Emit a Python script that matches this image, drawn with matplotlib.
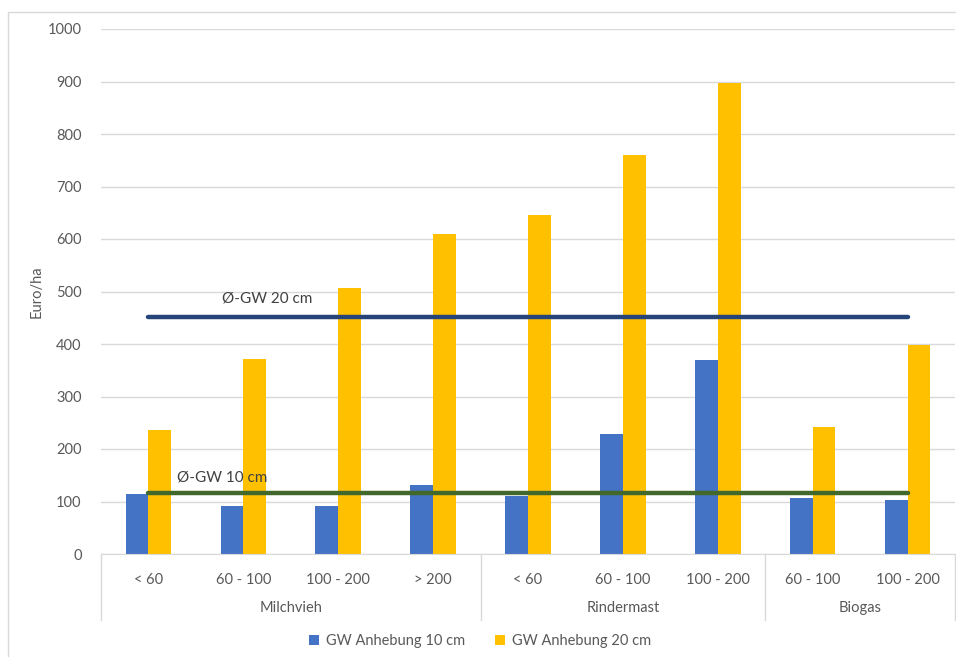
import numpy as np
import matplotlib.pyplot as plt
from matplotlib.patches import Rectangle

plt.rcParams['font.family'] = ['Lato', 'DejaVu Sans']

# data
categories = ['< 60', '60 - 100', '100 - 200', '> 200',
              '< 60', '60 - 100', '100 - 200',
              '60 - 100', '100 - 200']
groups = ['Milchvieh', 'Rindermast', 'Biogas']
group_sizes = [4, 3, 2]
gw10 = [114, 92, 92, 132, 110, 228, 370, 106, 102]
gw20 = [236, 372, 507, 609, 645, 760, 897, 242, 399]
avg10 = 116
avg20 = 451
series_names = ['GW Anhebung 10 cm', 'GW Anhebung 20 cm']

W, H = 956, 657
fig = plt.figure(figsize=(W / 100, H / 100), dpi=100)
ax = fig.add_axes([101 / W, 1 - 554 / H, 854 / W, 525 / H])

# outer chart border (cropped at right / bottom)
fig.patches.append(Rectangle((8 / W, -0.05), 1.1, 1 - 12 / H + 0.05, transform=fig.transFigure,
                             fill=False, edgecolor='#d9d9d9', linewidth=1.0))

x = np.arange(len(categories))
bw = 0.24
ax.bar(x - bw / 2, gw10, bw, color='#4472C4', label=series_names[0], zorder=2)
ax.bar(x + bw / 2, gw20, bw, color='#FFC000', label=series_names[1], zorder=2)

# average lines
ax.plot([x[0], x[-1]], [avg20, avg20], color='#264478', linewidth=3.2, solid_capstyle='round', zorder=3)
ax.plot([x[0], x[-1]], [avg10, avg10], color='#43682B', linewidth=3.2, solid_capstyle='round', zorder=3)
ax.text(0.775, 486, '\u00d8-GW 20 cm', fontsize=11, color='#404040', va='center', ha='left')
ax.text(0.30, 145, '\u00d8-GW 10 cm', fontsize=11, color='#404040', va='center', ha='left')

ax.set_xlim(-0.5, len(categories) - 0.5)
ax.set_ylim(0, 1000)
ax.set_yticks(np.arange(0, 1001, 100))
ax.yaxis.grid(True, color='#d9d9d9', linewidth=1.0, zorder=0)
ax.set_axisbelow(True)
for s in ['top', 'right', 'left']:
    ax.spines[s].set_visible(False)
ax.spines['bottom'].set_color('#d9d9d9')
ax.tick_params(axis='y', length=0, labelsize=10.5, labelcolor='#595959', pad=14)
ax.tick_params(axis='x', length=0, labelsize=10.5, labelcolor='#595959', pad=14)
ax.set_xticks(x)
ax.set_xticklabels(categories)
ax.set_ylabel('Euro/ha', fontsize=10.5, color='#595959', labelpad=3)

# group separators and labels
trans = ax.get_xaxis_transform()
bounds = np.concatenate([[0], np.cumsum(group_sizes)]) - 0.5
for b in bounds:
    ax.plot([b, b], [0, -66 / 525], color='#d9d9d9', linewidth=1.0, transform=trans, clip_on=False)
for i, g in enumerate(groups):
    ax.text((bounds[i] + bounds[i + 1]) / 2, -54 / 525, g, transform=trans,
            ha='center', va='center', fontsize=10.5, color='#595959')

fig.legend(loc='center', bbox_to_anchor=(480 / W, 1 - 641 / H), ncol=2, frameon=False,
           fontsize=10.5, labelcolor='#595959', handlelength=0.7, handleheight=0.7,
           handletextpad=0.5, columnspacing=2.0)

fig.savefig('out.png', dpi=100)
